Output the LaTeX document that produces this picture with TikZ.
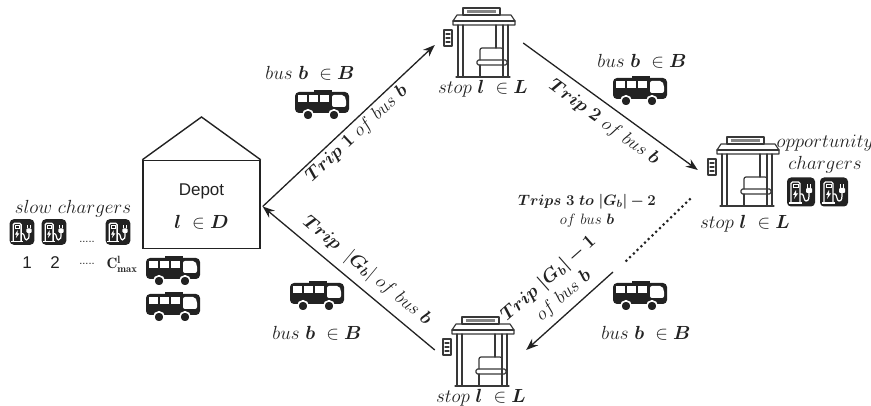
\RequirePackage{fix-cm}
\documentclass[tikz,border=0pt]{standalone}
\usepackage{amsmath}
\usepackage{bm}
\usepackage{fontspec}
\newfontfamily\arialfont{Liberation Sans}
\usetikzlibrary{arrows.meta,calc}

\definecolor{inkc}{HTML}{222222}

\tikzset{
  conn/.style={draw=inkc, line width=1.3pt, -{Stealth[length=12pt,width=9pt]}},
  dotline/.style={draw=inkc, line width=3pt, line cap=round, dash pattern=on 0pt off 5.2pt},
  mathlbl/.style={inner sep=0pt, text=inkc, font=\fontsize{19}{22}\selectfont, align=center},
  triplbl/.style={inner sep=0pt, text=inkc, font=\fontsize{18.5}{23}\selectfont, align=center},
  smalllbl/.style={inner sep=0pt, text=inkc, font=\fontsize{15}{19}\selectfont, align=center},
  sanslbl/.style={inner sep=0pt, text=inkc, font=\arialfont\fontsize{17}{19}\selectfont},
  stopbox/.style={minimum width=71pt, minimum height=69pt, inner sep=0pt},
  % side view of a bus, facing right
  busicon/.pic={
    \fill[inkc, rounded corners=4pt] (-27,-13) rectangle (27,8);
    \fill[inkc] (-8,-15) rectangle (10,-13);
    \fill[white] (-24,-10) rectangle (-15,-3);
    \fill[white] (-13,-10) rectangle (-4,-3);
    \fill[white] (-2,-10) rectangle (7,-3);
    \fill[white, rounded corners=2pt] (10,-10) -- (22,-10) -- (24,-6) -- (24,2) -- (10,2) -- cycle;
    \filldraw[fill=inkc, draw=white, line width=1.6pt] (-14,10) circle (5.2);
    \filldraw[fill=inkc, draw=white, line width=1.6pt] (12,10) circle (5.2);
  },
  % charging station with plug
  chargericon/.pic={
    \fill[inkc, rounded corners=4pt] (-14,-14.5) rectangle (14,14.5);
    \draw[white, line width=1.3pt, rounded corners=1.5pt] (-10,11) -- (-10,-10) -- (-1,-10) -- (-1,11);
    \draw[white, line width=1.3pt] (-12,11) -- (1,11);
    \draw[white, line width=0.9pt] (-8,-8) rectangle (-3,-4.5);
    \fill[white] (-5,-2) -- (-8,3) -- (-6,3) -- (-7,7) -- (-3,1.5) -- (-5,1.5) -- cycle;
    \draw[white, line width=1.2pt] (-1,2) -- (1,2) .. controls (3,2) and (2.5,9) .. (5,9) .. controls (8,9) and (8,6) .. (8,1);
    \fill[white, rounded corners=1pt] (5,-4) rectangle (11,1);
    \draw[white, line width=1.1pt] (6.5,-4) -- (6.5,-8) (9.5,-4) -- (9.5,-8);
  },
  % bus shelter, origin at the centre of the roof's lower edge
  stopicon/.pic={
    \begin{scope}[draw=inkc!90, line width=1.2pt, line join=round, line cap=round]
      \draw (-21,-17) rectangle (16,-10);
      \fill[inkc!55] (-17,-15.2) rectangle (12,-11.8);
      \draw (-27,-10) -- (27,-10) -- (31,-4) -- (31,0) -- (-31,0) -- (-31,-4) -- cycle;
      \draw (-31,-4) -- (31,-4);
      \draw (-26,0) -- (-26,52) (-21,0) -- (-21,52);
      \draw (19,0) -- (19,52) (24,0) -- (24,52);
      \draw (12,0) -- (12,23);
      \draw[rounded corners=2pt] (-4,35) -- (-4,23) -- (19,23) -- (19,35);
      \draw[rounded corners=1.5pt] (-7,35) rectangle (23,40);
      \draw (-4,40) -- (-4,52);
      \draw (-28,52) -- (26,52);
      \draw (-40,5) rectangle (-32,21);
      \draw (-38,9) -- (-34,9) (-38,13) -- (-34,13) (-38,17) -- (-34,17);
    \end{scope}
  },
}

\begin{document}
\begin{tikzpicture}[x=1pt,y=-1pt]
\useasboundingbox (0,0) rectangle (871,406);

% ---------- depot ----------
\node[draw=inkc, line width=1.4pt, minimum width=117pt, minimum height=88pt, inner sep=0pt] (depot) at (201.5,204.5) {};
\coordinate (apex) at (201.5,117);
\draw[inkc, line width=1.4pt] (depot.north west) -- (apex) -- (depot.north east);
\node[sanslbl] (depotname) at (201.5,191) {Depot};
\node[mathlbl] (depotset) at (201.5,222) {$\bm{l}\ \in \bm{D}$};

% slow chargers at the depot
\node[mathlbl] (slowlbl) at (73,209) {$slow\ chargers$};
\pic[scale=0.88] at (22,232) {chargericon};
\pic[scale=0.88] at (54,232) {chargericon};
\pic[scale=0.88] at (118,232) {chargericon};
\node[inner sep=0pt, text=inkc, font=\arialfont\fontsize{11}{12}\selectfont] (dotsA) at (87,242) {.....};
\node[sanslbl] (numone) at (27,263) {1};
\node[sanslbl] (numtwo) at (55,263) {2};
\node[inner sep=0pt, text=inkc, font=\arialfont\fontsize{11}{12}\selectfont] (dotsB) at (87,264) {.....};
\node[inner sep=0pt, text=inkc, font=\fontsize{15}{17}\selectfont] (cmax) at (122,264) {$\mathbf{C}^{\mathbf{l}}_{\mathbf{max}}$};

% buses parked at the depot
\pic at (173,271) {busicon};
\pic at (173,307) {busicon};

% ---------- stops ----------
\node[stopbox] (stopA) at (479.5,42.5) {};
\pic at ($(stopA.center)+(4.5,-17.5)$) {stopicon};
\node[mathlbl] (stopAlbl) at (483,89) {$stop\ \bm{l}\ \in \bm{L}$};

\node[stopbox] (stopB) at (743.5,171.5) {};
\pic at ($(stopB.center)+(4.5,-17.5)$) {stopicon};
\node[mathlbl] (stopBlbl) at (745,224) {$stop\ \bm{l}\ \in \bm{L}$};

\node[stopbox] (stopC) at (478.5,351.5) {};
\pic at ($(stopC.center)+(4.5,-17.5)$) {stopicon};
\node[mathlbl] (stopClbl) at (481,398) {$stop\ \bm{l}\ \in \bm{L}$};

% opportunity chargers at the right stop
\node[mathlbl] (opplbl) at (825,154) {$opportunity$\\$chargers$};
\pic at (801,192) {chargericon};
\pic at (834,192) {chargericon};

% ---------- buses on the trips ----------
\pic at (322,105) {busicon};
\node[mathlbl] (busAlbl) at (310,73) {$bus\ \bm{b}\ \in \bm{B}$};
\pic at (640,91) {busicon};
\node[mathlbl] (busBlbl) at (642,61) {$bus\ \bm{b}\ \in \bm{B}$};
\pic at (317,296) {busicon};
\node[mathlbl] (busClbl) at (317,333) {$bus\ \bm{b}\ \in \bm{B}$};
\pic at (640,296) {busicon};
\node[mathlbl] (busDlbl) at (646,333) {$bus\ \bm{b}\ \in \bm{B}$};

% ---------- trips ----------
\coordinate (depotport) at ($(depot.east)+(2,2)$);
\coordinate (gapA) at (625,262);
\coordinate (gapB) at (613,272);

\draw[conn] (depotport) -- ($(stopA.west)+(-9,2.5)$);
\draw[conn] ($(stopA.east)+(8,0.5)$) -- ($(stopB.west)+(-10,-1.5)$);
\draw[dotline] ($(stopB.south west)+(-18,-7)$) -- (gapA);
\draw[conn] (gapB) -- ($(stopC.east)+(12,-1.5)$);
\draw[conn] ($(stopC.west)+(-8,-1.5)$) -- (depotport);

\node[triplbl, rotate=43] (tripone) at (357,134) {$\bm{Trip\ 1}\ of\ bus\ \bm{b}$};
\node[triplbl, rotate=-36] (triptwo) at (604,123) {$\bm{Trip\ 2}\ of\ bus\ \bm{b}$};
\node[smalllbl] (tripsmid) at (587,211) {$\bm{Trips\ 3\ to\ |G_b| - 2}$\\$of\ bus\ \bm{b}$};
\node[triplbl, rotate=41.5] (triplast) at (556,287) {$\bm{Trip\ |G_b| - 1}$\\$of\ bus\ \bm{b}$};
\node[triplbl, rotate=-39.7] (tripback) at (367,271) {$\bm{Trip}\ \ |\bm{G_b}|\ of\ bus\ \bm{b}$};

\end{tikzpicture}
\end{document}
